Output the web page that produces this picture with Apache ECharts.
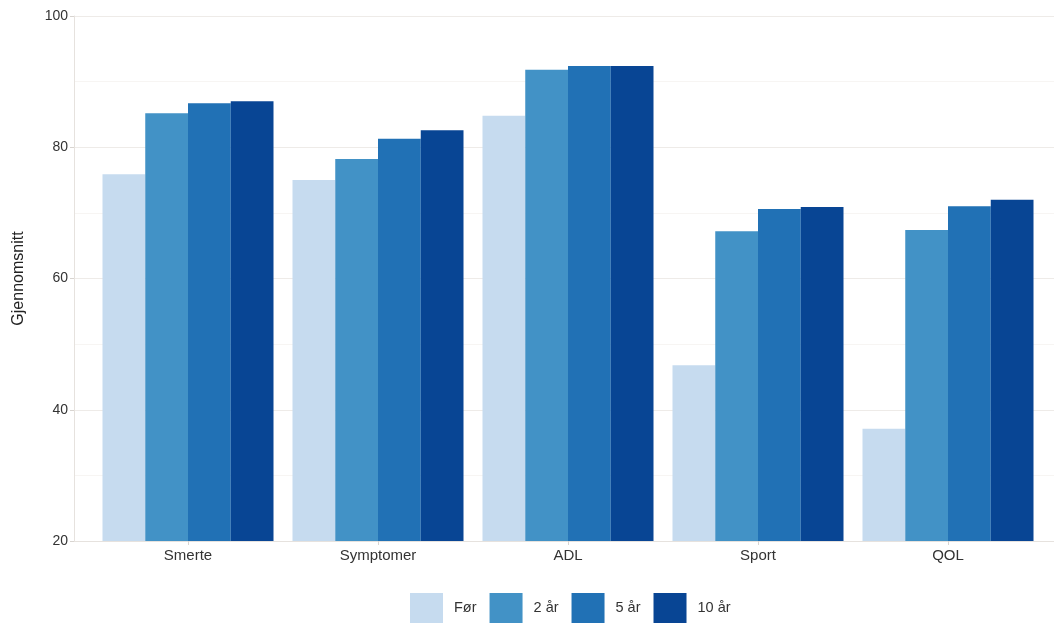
<!DOCTYPE html>
<html>
<head>
<meta charset="utf-8">
<script src="https://cdn.jsdelivr.net/npm/echarts@6/dist/echarts.min.js"></script>
<style>
html,body{margin:0;padding:0;background:#fff;}
#chart{width:1054px;height:624px;}
</style>
</head>
<body>
<div id="chart"></div>
<script>
const categories = ['Smerte', 'Symptomer', 'ADL', 'Sport', 'QOL'];
const seriesNames = ['Før', '2 år', '5 år', '10 år'];
const forValues = [75.9, 75.0, 84.8, 46.8, 37.1];
const year2Values = [85.2, 78.2, 91.8, 67.2, 67.4];
const year5Values = [86.7, 81.3, 92.4, 70.6, 71.0];
const year10Values = [87.0, 82.6, 92.4, 70.9, 72.0];
const yTicks = [20, 40, 60, 80, 100];
const colors = ['#c6dbef', '#4292c6', '#2171b5', '#084594'];

const allValues = [forValues, year2Values, year5Values, year10Values];
const chart = echarts.init(document.getElementById('chart'));
const font = 'Liberation Sans, Arial, sans-serif';

chart.setOption({
  animation: false,
  color: colors,
  textStyle: { fontFamily: font },
  legend: {
    data: seriesNames,
    bottom: -4,
    left: 405,
    itemWidth: 33,
    itemHeight: 30,
    itemGap: 13,
    textStyle: { fontSize: 14.5, color: '#333', fontFamily: font, padding: [0, 0, 0, 6] },
    icon: 'rect'
  },
  grid: [
    { left: 74, width: 988, top: 16, height: 525, containLabel: false },
    { left: 93, width: 950, top: 16, height: 525, containLabel: false }
  ],
  xAxis: [
    {
      type: 'category', gridIndex: 0, data: ['x'],
      axisLine: { show: true, lineStyle: { color: '#e6e2de', width: 1 } },
      axisTick: { show: false }, axisLabel: { show: false }, splitLine: { show: false }
    },
    {
      type: 'category', gridIndex: 1, data: categories,
      axisLine: { show: false },
      axisTick: { show: true, alignWithLabel: true, length: 4, lineStyle: { color: '#d8d4d0' } },
      axisLabel: { fontSize: 15, color: '#333', margin: 7, fontFamily: font },
      splitLine: { show: false }
    }
  ],
  yAxis: [
    {
      type: 'value', gridIndex: 0, min: yTicks[0], max: yTicks[yTicks.length - 1], interval: 20,
      name: 'Gjennomsnitt', nameLocation: 'middle', nameGap: 47,
      nameTextStyle: { fontSize: 16, color: '#222', fontFamily: font },
      axisLine: { show: true, lineStyle: { color: '#e6e2de' } },
      axisTick: { show: true, length: 4, lineStyle: { color: '#d8d4d0' } },
      axisLabel: { fontSize: 14, color: '#333', margin: 6, fontFamily: font },
      splitLine: { show: true, lineStyle: { color: '#eeebe8', width: 1 } },
      minorTick: { show: false, splitNumber: 2 },
      minorSplitLine: { show: true, lineStyle: { color: '#f7f5f3', width: 1 } }
    },
    {
      type: 'value', gridIndex: 1, min: yTicks[0], max: yTicks[yTicks.length - 1], interval: 20,
      show: false, splitLine: { show: false }
    }
  ],
  series: seriesNames.map((name, i) => ({
    name: name,
    type: 'bar',
    xAxisIndex: 1,
    yAxisIndex: 1,
    data: allValues[i],
    barWidth: 42.75,
    barGap: '0%',
    itemStyle: { color: colors[i] }
  }))
});
</script>
</body>
</html>
